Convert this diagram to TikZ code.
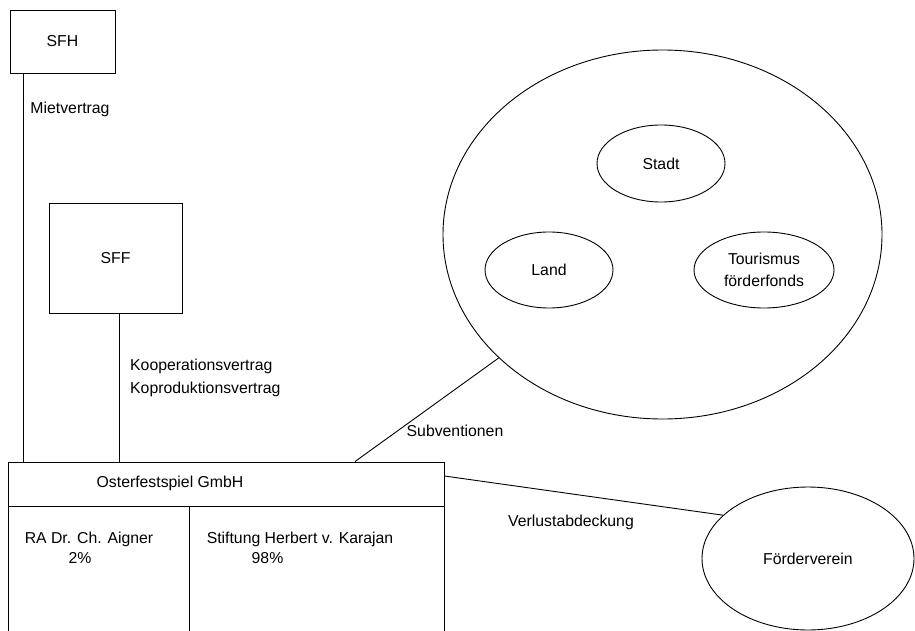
\documentclass[tikz,border=0pt]{standalone}
\usepackage{fontspec}
\setmainfont{Liberation Sans}
\usetikzlibrary{shapes.geometric}
\begin{document}
\begin{tikzpicture}[x=1pt,y=-1pt,
  every node/.style={font=\fontsize{15.8}{22}\selectfont},
  line/.style={draw=black,line width=0.9pt},
  boxnode/.style={line,rectangle,inner sep=0pt},
  ellnode/.style={line,ellipse,inner sep=0pt},
  lbl/.style={inner sep=0pt,align=center}]
\useasboundingbox (0,0) rectangle (915,631);
\clip (0,0) rectangle (915,631);
% boxes
\node[boxnode,minimum width=105,minimum height=63] (SFH) at (62.5,41.5) {SFH};
\node[boxnode,minimum width=133,minimum height=110] (SFF) at (115.5,258) {SFF};
\node[boxnode,minimum width=436,minimum height=44] (gmbh) at (226,484) {};
\node[boxnode,minimum width=181,minimum height=150,anchor=north west] (aigner) at (8,506) {};
\node[boxnode,minimum width=255,minimum height=150,anchor=north west] (karajan) at (189,506) {};
\node[lbl] (gmbhtxt) at (170,483) {Osterfestspiel GmbH};
\node[lbl] (aignertxt) at (89,539) {RA Dr. Ch. Aigner};
\node[lbl] (aignerpct) at (80,558) {2\%};
\node[lbl] (karajantxt) at (300,539) {Stiftung Herbert v. Karajan};
\node[lbl] (karajanpct) at (267.5,558) {98\%};
% ellipses
\node[ellnode,minimum width=439,minimum height=369] (big) at (662.5,234.5) {};
\node[ellnode,minimum width=128,minimum height=77] (stadt) at (661,163.5) {Stadt};
\node[ellnode,minimum width=128,minimum height=76] (land) at (549,270) {Land};
\node[ellnode,minimum width=140,minimum height=76,align=center] (tour) at (764,270) {Tourismus\\förderfonds};
\node[ellnode,minimum width=212,minimum height=143] (foerder) at (808,558.5) {Förderverein};
% connectors
\draw[line] ([xshift=-39.5pt]SFH.south) -- ([xshift=-39.5pt]SFH.south |- gmbh.north);
\draw[line] ([xshift=3.5pt]SFF.south) -- ([xshift=3.5pt]SFF.south |- gmbh.north);
\draw[line] ([xshift=129pt]gmbh.north) -- (big.217.4);
\draw[line] ([yshift=8pt]gmbh.east) -- (foerder.153.5);
% connector labels
\node[lbl] (miet) at (70,109) {Mietvertrag};
\node[lbl,anchor=west] (koop) at (130,366) {Kooperationsvertrag};
\node[lbl,anchor=west] (kopro) at (130,389) {Koproduktionsvertrag};
\node[lbl] (subv) at (455,431) {Subventionen};
\node[lbl,anchor=west] (verl) at (508,522) {Verlustabdeckung};
\end{tikzpicture}
\end{document}
